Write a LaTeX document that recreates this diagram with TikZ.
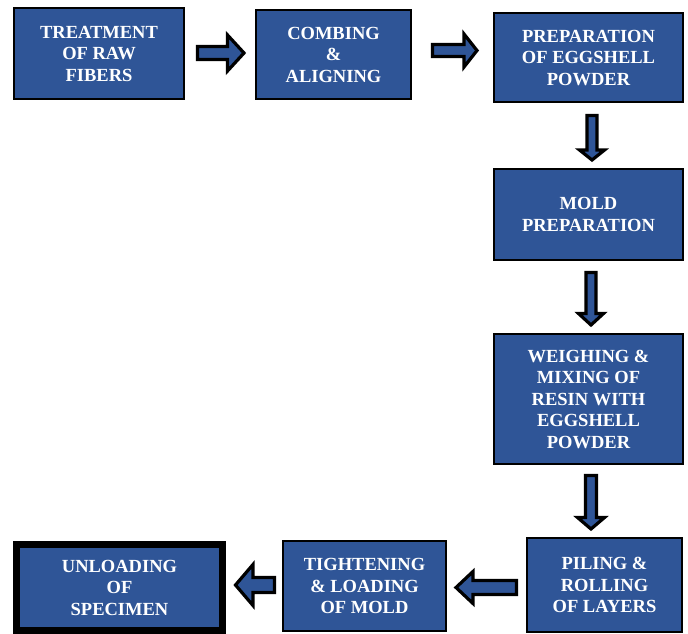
\documentclass[tikz,border=0pt]{standalone}
\usepackage{fontspec}
\setmainfont{Liberation Serif}
\usetikzlibrary{calc}
\definecolor{boxblue}{RGB}{47,85,151}
\tikzset{
  procbox/.style={draw=black, line width=2pt, fill=boxblue, text=white,
    font=\fontsize{18.5}{21.5}\selectfont\bfseries, align=center, inner sep=0pt,
    text depth=-3.5pt},
  finalbox/.style={procbox, line width=7pt},
  barrow/.style={draw=black, line width=3.2pt, fill=boxblue, line join=miter},
}
% horizontal block arrow: #1 tail, #2 tip, #3 shaft half, #4 head half, #5 head length, #6 direction (+1 right, -1 left)
\newcommand\harrow[6]{\draw[barrow] let \p1=#1, \p2=#2 in
  (\x1,{\y1+#3}) -- ({\x2-(#6)*#5},{\y1+#3}) -- ({\x2-(#6)*#5},{\y1+#4}) -- (\x2,\y1)
  -- ({\x2-(#6)*#5},{\y1-#4}) -- ({\x2-(#6)*#5},{\y1-#3}) -- (\x1,{\y1-#3}) -- cycle;}
% vertical block arrow: #6 = -1 for downwards
\newcommand\varrow[6]{\draw[barrow] let \p1=#1, \p2=#2 in
  ({\x1+#3},\y1) -- ({\x1+#3},{\y2-(#6)*#5}) -- ({\x1+#4},{\y2-(#6)*#5}) -- (\x1,\y2)
  -- ({\x1-#4},{\y2-(#6)*#5}) -- ({\x1-#3},{\y2-(#6)*#5}) -- ({\x1-#3},\y1) -- cycle;}
\begin{document}
\begin{tikzpicture}[x=1pt,y=-1pt]
\useasboundingbox (0,0) rectangle (688,634);
\node[procbox, minimum width=170pt, minimum height=91pt] (b1) at (99,53.5) {TREATMENT\\OF RAW\\FIBERS};
\node[procbox, minimum width=155pt, minimum height=89pt] (b2) at (333.5,54.5) {COMBING\\\&\\ALIGNING};
\node[procbox, minimum width=189pt, minimum height=89pt] (b3) at (588.5,57.5) {PREPARATION\\OF EGGSHELL\\POWDER};
\node[procbox, minimum width=189pt, minimum height=91pt] (b4) at (588.5,214.5) {MOLD\\PREPARATION};
\node[procbox, minimum width=189pt, minimum height=130pt] (b5) at (588.5,399) {WEIGHING \&\\MIXING OF\\RESIN WITH\\EGGSHELL\\POWDER};
\node[procbox, minimum width=155pt, minimum height=94pt] (b6) at (604.5,585) {PILING \&\\ROLLING\\OF LAYERS};
\node[procbox, minimum width=163pt, minimum height=90pt] (b7) at (364.5,586) {TIGHTENING\\\& LOADING\\OF MOLD};
\node[finalbox, minimum width=206pt, minimum height=86pt] (b8) at (119.5,587.5) {UNLOADING\\OF\\SPECIMEN};

\harrow{($(b1.east)+(12.5,-0.5)$)}{($(b2.west)+(-11,-1.5)$)}{6.5pt}{18pt}{16.5pt}{1}
\harrow{($(b2.east)+(20.5,-4)$)}{($(b3.west)+(-16,-7)$)}{6pt}{16.5pt}{13pt}{1}
\varrow{($(b3.south)+(3.5,12.5)$)}{($(b4.north)+(3.5,-8)$)}{5pt}{12.5pt}{10pt}{-1}
\varrow{($(b4.south)+(2.5,11.5)$)}{($(b5.north)+(2.5,-8)$)}{5pt}{12.5pt}{11.5pt}{-1}
\varrow{($(b5.south)+(2.5,10.5)$)}{($(b6.north)+(-13.5,-8)$)}{5.5pt}{13.5pt}{11.5pt}{-1}
\harrow{($(b6.west)+(-9.5,2.5)$)}{($(b7.east)+(9,1.5)$)}{7pt}{16pt}{17pt}{-1}
\harrow{($(b7.west)+(-7.5,-1)$)}{($(b8.east)+(9.5,-2.5)$)}{7.5pt}{20.5pt}{17.5pt}{-1}
\end{tikzpicture}
\end{document}
